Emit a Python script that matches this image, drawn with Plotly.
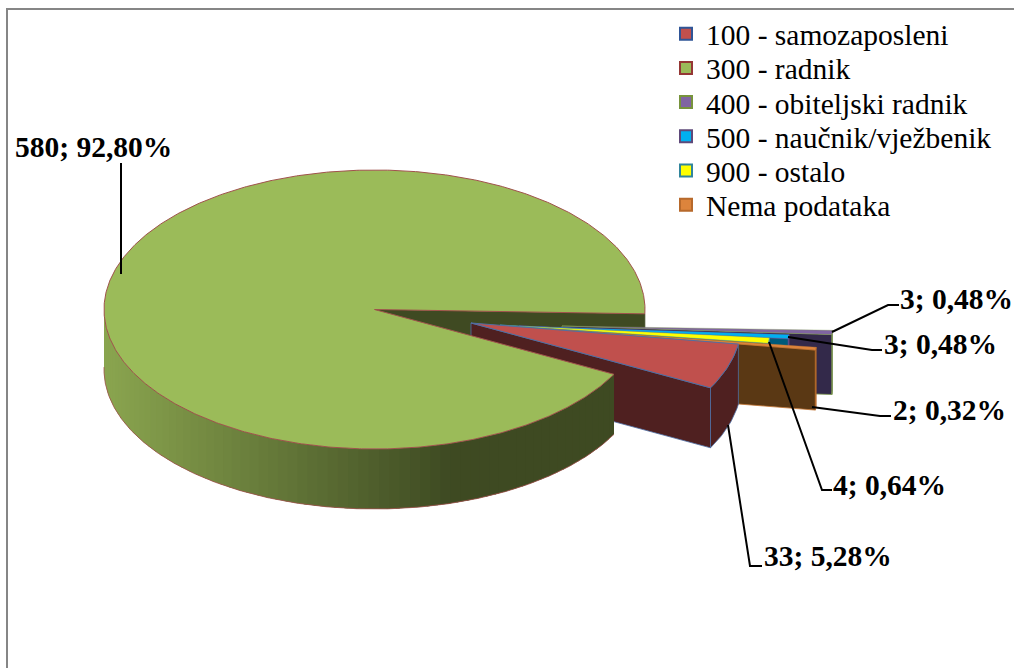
import math
import plotly.graph_objects as go

# ---- data ----
categories = ["100 - samozaposleni", "300 - radnik", "400 - obiteljski radnik",
              "500 - naučnik/vježbenik", "900 - ostalo", "Nema podataka"]
values = [33, 580, 3, 3, 4, 2]

# ---- style ----
top_colors = ["#C0504D", "#9BBB59", "#8064A2", "#00B0F0", "#FFFF00", "#DD843C"]
edge_colors = ["#4F6FA5", "#A0524C", "#7F9A50", "#6A4F8F", "#3C8FB0", "#C0712E"]
wall_colors = ["#4F2020", "#3F4A22", "#33294A", "#005A7A", "#7A7A00", "#5A3814"]
legend_edges = ["#2F5597", "#953735", "#77933C", "#5F497A", "#31859C", "#B7692B"]

# ---- pie geometry (pixel-like axes) ----
CX, CY, RX, RY, DEPTH = 374.5, 309.5, 270.5, 139.5, 60
START = 8.69                       # angle where the first slice begins
EXPLODE_X = [96.5, 0, 187.5, 144.5, 125.5, 173.5]
EXPLODE_Y = [13.5, 0, 16.5, 16.5, 15.5, 19.5]

# ---- labels: anchor of text, then leader polyline ----
LABEL_X = [764, 15, 900, 884, 833, 893]
LABEL_Y = [559, 150, 302, 347, 488, 413]
leader_paths = [
    [(728, 425), (750, 566), (762, 566)],
    [(121, 274), (121, 163)],
    [(832, 332), (888, 305), (899, 305)],
    [(788, 337), (872, 350), (882, 350)],
    [(812, 407), (880, 416), (891, 416)],
    [(769, 342), (822, 490), (832, 490)],
]
SERIF = "Liberation Serif"
LEGEND_TOP = 8
LEGEND_STEP = 34.2

total = sum(values)
angles = []
a = START
for v in values:
    angles.append((a, a + v / total * 360))
    a += v / total * 360


def pt(i, t, d=0):
    r = math.radians(t)
    return (CX + EXPLODE_X[i] + RX * math.cos(r), CY + EXPLODE_Y[i] + RY * math.sin(r) + d)


def arc(i, t0, t1, d=0, step=1.0):
    n = max(2, int(abs(t1 - t0) / step) + 1)
    return [pt(i, t0 + (t1 - t0) * k / (n - 1), d) for k in range(n)]


fig = go.Figure()


def poly(points, fill, line=None, width=0.8):
    xs = [p[0] for p in points]
    ys = [p[1] for p in points]
    fig.add_trace(go.Scatter(
        x=xs + [xs[0]], y=ys + [ys[0]], mode="lines", fill="toself",
        fillcolor=fill, line=dict(color=line or fill, width=width),
        showlegend=False, hoverinfo="skip"))


def tip(i, d=0):
    return (CX + EXPLODE_X[i], CY + EXPLODE_Y[i] + d)


def lerp(c0, c1, f):
    f = max(0, min(1, f))
    return "rgb(%d,%d,%d)" % tuple(round(c0[k] + (c1[k] - c0[k]) * f) for k in range(3))


# notch wall of the big slice
G = 1
g0, g1 = angles[G]
poly([tip(G), pt(G, g1), pt(G, g1, DEPTH), tip(G, DEPTH)], wall_colors[G])

# small exploded slices, back to front
for i in [2, 3, 4, 5, 0]:
    t0, t1 = angles[i]
    poly([tip(i), pt(i, t1), pt(i, t1, DEPTH), tip(i, DEPTH)], wall_colors[i], edge_colors[i])
    poly(arc(i, t0, t1) + arc(i, t1, t0, DEPTH), wall_colors[i], edge_colors[i])
    poly([tip(i)] + arc(i, t0, t1), top_colors[i], edge_colors[i], 1 if i == 0 else 0.4)

# front wall of the big slice with its gradient: strips overlap so no seams show
n_strips = 70
front_end = 181
for k in range(n_strips):
    a0 = g0 + (front_end - g0) * k / n_strips
    a1 = g0 + (front_end - g0) * (k + 1) / n_strips
    x_mid = (pt(G, a0)[0] + pt(G, a1)[0]) / 2
    col = lerp((62, 74, 34), (138, 165, 79), (450 - x_mid) / (450 - 105))
    hi = min(a1 + 3, front_end)
    poly(arc(G, a0, hi, 0, 0.5) + arc(G, hi, a0, DEPTH, 0.5), col, col, 0)
# outline of the wall
outline = arc(G, g0, front_end, DEPTH, 0.5)
fig.add_trace(go.Scatter(x=[p[0] for p in outline], y=[p[1] for p in outline], mode="lines",
                         line=dict(color=edge_colors[G], width=0.8), showlegend=False, hoverinfo="skip"))
# top of the big slice
poly([tip(G)] + arc(G, g0, g1, 0, 0.5), top_colors[G], edge_colors[G], 1)

# leader lines
for path in leader_paths:
    fig.add_trace(go.Scatter(x=[p[0] for p in path], y=[p[1] for p in path], mode="lines",
                             line=dict(color="#000000", width=2), showlegend=False, hoverinfo="skip"))

# data labels
label_text = ["<b>%d; %s%%</b>" % (v, ("%.2f" % (v / total * 100)).replace(".", ",")) for v in values]
fig.add_trace(go.Scatter(x=LABEL_X, y=LABEL_Y, mode="text", text=label_text,
                         textposition="middle right",
                         textfont=dict(family=SERIF, size=29.5, color="#000000"),
                         showlegend=False, hoverinfo="skip"))

# legend entries: one native legend per row to reproduce the tight row spacing
legends = {}
for k, (name, c, e) in enumerate(zip(categories, top_colors, legend_edges)):
    key = "legend" if k == 0 else "legend%d" % (k + 1)
    fig.add_trace(go.Scatter(x=[None], y=[None], mode="markers", name=name, legend=key,
                             marker=dict(symbol="square", size=12, color=c, line=dict(color=e, width=2))))
    legends[key] = dict(x=666 / 1014, y=1 - (LEGEND_TOP + k * LEGEND_STEP) / 668,
                        xanchor="left", yanchor="top",
                        font=dict(family=SERIF, size=29.5, color="#000000"),
                        bgcolor="rgba(0,0,0,0)", itemclick=False, itemdoubleclick=False)

fig.update_layout(
    width=1014, height=668, margin=dict(l=0, r=0, t=0, b=0),
    paper_bgcolor="#FFFFFF", plot_bgcolor="#FFFFFF",
    xaxis=dict(range=[0, 1014], visible=False, fixedrange=True),
    yaxis=dict(range=[668, 0], visible=False, fixedrange=True),
    hovermode=False,
    shapes=[dict(type="rect", xref="x", yref="y", x0=7, y0=9, x1=1040, y1=700,
                 line=dict(color="#868686", width=2), layer="below")],
    **legends,
)

fig.write_html("out.html", post_script="document.body.style.margin='0';document.documentElement.style.overflow='hidden';",
               config={"displayModeBar": False})
